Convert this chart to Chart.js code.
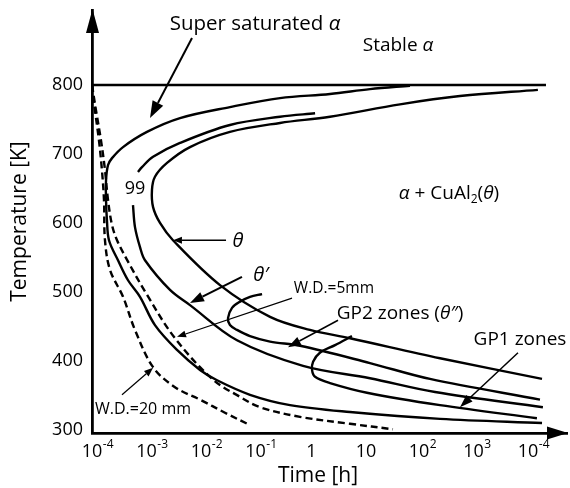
<!DOCTYPE html>
<html>
<head>
<meta charset="utf-8">
<script src="https://cdn.jsdelivr.net/npm/chart.js@4/dist/chart.umd.min.js"></script>
<style>html,body{margin:0;padding:0;background:#fff;}canvas{display:block;}</style>
</head>
<body>
<canvas id="c" width="570" height="488"></canvas>
<script>
// ---------- tick values / labels ----------
const xTickValues = [1e-4, 1e-3, 1e-2, 1e-1, 1, 10, 100, 1000, 10000];
const xTickBase   = ['10', '10', '10', '10', '1', '10', '10', '10', '10'];
const xTickExp    = ['-4', '-3', '-2', '-1', '',  '',   '2',  '3',  '-4'];
const yTickValues = [300, 400, 500, 600, 700, 800];

// ---------- series (time in h, temperature in K) ----------
const solvusTime = [1e-4, 21400];
const solvusTemp = [800, 800];

const outerTime = [68.4, 12.6, 2.33, 0.282, 0.034, 4.12e-3, 1.02e-3, 3.71e-4, 2.33e-4, 1.97e-4, 1.81e-4, 1.81e-4, 1.88e-4, 2.05e-4, 3.0e-4, 4.58e-4, 7.6e-4, 1.43e-3, 3.63e-3, 9.6e-3, 0.0197, 0.0793, 0.43, 5.42, 243, 18100];
const outerTemp = [799, 794, 787, 781, 768, 752, 732, 710, 694, 684, 662, 633, 604, 575, 546, 517, 493, 452, 416, 387, 372, 351, 336, 326, 316, 310];

const c99UpperTime = [1.24, 0.282, 0.034, 4.12e-3, 1.32e-3, 8.26e-4, 6.98e-4];
const c99UpperTemp = [759, 754, 742, 716, 696, 681, 674];
const c99LowerTime = [5.65e-4, 6.15e-4, 7.6e-4, 9.38e-4, 2.7e-3, 6.28e-3, 0.0458, 0.745, 12.6, 197, 18800];
const c99LowerTemp = [626, 594, 565, 546, 503, 481, 430, 393, 375, 355, 333];

const thetaTime = [15200, 565, 44.8, 2.33, 0.282, 0.034, 6.28e-3, 2.38e-3, 1.43e-3, 1.26e-3, 1.32e-3, 1.77e-3, 3.06e-3, 0.0223, 0.185, 1.0, 5.42, 243, 18100];
const thetaTemp = [793, 784, 772, 754, 745, 732, 710, 687, 667, 648, 623, 600, 575, 510, 464, 445, 433, 404, 374];

const gp2Time = [0.132, 0.0793, 0.052, 0.0371, 0.0313, 0.034, 0.0458, 0.0793, 0.185, 0.656, 12.6, 159, 16600];
const gp2Temp = [497, 493, 486, 477, 462, 452, 445, 436, 428, 422, 397, 374, 344];

const gp1Time = [5.9, 2.88, 1.52, 1.14, 1.09, 1.24, 2.33, 11.1, 243, 14600];
const gp1Temp = [436, 423, 412, 399, 387, 377, 368, 354, 336, 317];

const wd20Time = [1e-4, 1.13e-4, 1.34e-4, 1.52e-4, 1.66e-4, 1.73e-4, 2.14e-4, 3.71e-4, 6.15e-4, 1.32e-3, 3.33e-3, 9.6e-3, 0.0275, 0.0793];
const wd20Temp = [800, 764, 720, 677, 633, 575, 532, 493, 445, 391, 362, 344, 325, 307];

const wd5Time = [1e-4, 1.18e-4, 1.46e-4, 1.73e-4, 1.97e-4, 2.33e-4, 2.88e-4, 4.58e-4, 1.02e-3, 3.33e-3, 0.0166, 0.052, 0.121, 0.656, 5.42, 33.3];
const wd5Temp = [800, 764, 720, 677, 633, 597, 575, 544, 496, 433, 373, 348, 333, 319, 309, 301];

// ---------- annotations (data coordinates) ----------
const noteParts = [
  [['Super saturated ', 0], ['α', 1]],
  [['Stable ', 0], ['α', 1]],
  [['α', 1], [' + CuAl', 0], ['2', 2], ['(', 0], ['θ', 1], [')', 0]],
  [['99', 0]],
  [['θ', 1]],
  [['θ′', 1]],
  [['W.D.=5mm', 0]],
  [['GP2 zones (', 0], ['θ″', 1], [')', 0]],
  [['GP1 zones', 0]],
  [['W.D.=20 mm', 0]]
];
const noteTime = [0.098, 41.2, 355, 6.15e-4, 0.0478, 0.126, 2.75, 44.8, 7130, 8.63e-4];
const noteTemp = [891, 859, 645, 652, 575, 527, 506, 471, 433, 332];
const noteSize = [20.5, 19, 19, 18, 20, 20, 15.5, 19, 19, 16];

const arrowFromTime = [6.84e-3, 0.0288, 0.0565, 0.468, 3.27, 6560, 3.55e-4];
const arrowFromTemp = [868, 575, 522, 491, 459, 412, 351];
const arrowToTime   = [1.16e-3, 3.06e-3, 6.28e-3, 3.63e-3, 0.394, 565, 1.32e-3];
const arrowToTemp   = [752, 575, 484, 435, 420, 333, 390];
const arrowWidth    = [2, 1.3, 2, 1.2, 1.5, 1.5, 1.2];
const arrowHead     = [[17, 6], [9, 3.5], [14, 5], [9, 3.5], [13, 4.5], [13, 4.5], [9, 3.5]];

const FONT = "'Open Sans', 'DejaVu Sans', sans-serif";

function zip(ts, Ts) { return ts.map((t, i) => ({ x: t, y: Ts[i] })); }
function solid(label, ts, Ts) {
  return { label, data: zip(ts, Ts), borderColor: '#000', borderWidth: 2.4, showLine: true,
           pointRadius: 0, tension: 0.35, fill: false };
}
function dashed(label, ts, Ts) {
  const d = solid(label, ts, Ts); d.borderDash = [7, 4]; return d;
}

function drawRich(ctx, parts, cx, cy, size) {
  const fonts = [`${size}px ${FONT}`, `italic ${size}px ${FONT}`, `${Math.round(size * 0.62)}px ${FONT}`];
  let total = 0;
  parts.forEach(p => { ctx.font = fonts[p[1]]; total += ctx.measureText(p[0]).width; });
  let x = cx - total / 2;
  ctx.textAlign = 'left';
  ctx.textBaseline = 'alphabetic';
  const base = cy + size * 0.36;
  parts.forEach(p => {
    ctx.font = fonts[p[1]];
    const y = p[1] === 2 ? base + size * 0.2 : base;
    ctx.fillText(p[0], x, y);
    x += ctx.measureText(p[0]).width;
  });
}

function drawArrow(ctx, x1, y1, x2, y2, w, len, hw) {
  const a = Math.atan2(y2 - y1, x2 - x1);
  const bx = x2 - len * Math.cos(a), by = y2 - len * Math.sin(a);
  ctx.lineWidth = w;
  ctx.beginPath(); ctx.moveTo(x1, y1); ctx.lineTo(bx, by); ctx.stroke();
  ctx.beginPath();
  ctx.moveTo(x2, y2);
  ctx.lineTo(bx + hw * Math.sin(a), by - hw * Math.cos(a));
  ctx.lineTo(bx - hw * Math.sin(a), by + hw * Math.cos(a));
  ctx.closePath(); ctx.fill();
}

const overlay = {
  id: 'overlay',
  afterDraw(chart) {
    const ctx = chart.ctx, xs = chart.scales.x, ys = chart.scales.y, ca = chart.chartArea;
    ctx.save();
    ctx.fillStyle = '#000'; ctx.strokeStyle = '#000';
    // axis arrowheads
    ctx.beginPath();
    ctx.moveTo(ca.left + 0.5, ca.top - 1);
    ctx.lineTo(ca.left - 6, ca.top + 23);
    ctx.lineTo(ca.left + 7, ca.top + 23);
    ctx.closePath(); ctx.fill();
    ctx.beginPath();
    ctx.moveTo(ca.right + 1, ca.bottom);
    ctx.lineTo(ca.right - 20, ca.bottom - 6.5);
    ctx.lineTo(ca.right - 20, ca.bottom + 6.5);
    ctx.closePath(); ctx.fill();
    // x tick labels with superscripts
    xTickValues.forEach((v, i) => {
      const px = xs.getPixelForValue(v);
      ctx.font = `18px ${FONT}`;
      ctx.textBaseline = 'alphabetic';
      const bw = ctx.measureText(xTickBase[i]).width;
      ctx.textAlign = 'left';
      const x0 = px - bw / 2 + (xTickExp[i] ? 0 : 1.5);
      ctx.fillText(xTickBase[i], x0, ca.bottom + 24);
      if (xTickExp[i]) {
        ctx.font = `12px ${FONT}`;
        ctx.fillText(xTickExp[i], x0 + bw + 0.5, ca.bottom + 15);
      }
    });
    // x axis title
    ctx.font = `21px ${FONT}`;
    ctx.textAlign = 'center'; ctx.textBaseline = 'middle';
    ctx.fillText('Time [h]', 318, 476);
    // annotation arrows
    arrowFromTime.forEach((t, i) => {
      drawArrow(ctx, xs.getPixelForValue(t), ys.getPixelForValue(arrowFromTemp[i]),
        xs.getPixelForValue(arrowToTime[i]), ys.getPixelForValue(arrowToTemp[i]),
        arrowWidth[i], arrowHead[i][0], arrowHead[i][1]);
    });
    // annotation texts
    noteParts.forEach((parts, i) => {
      drawRich(ctx, parts, xs.getPixelForValue(noteTime[i]), ys.getPixelForValue(noteTemp[i]), noteSize[i]);
    });
    ctx.restore();
  }
};

new Chart(document.getElementById('c'), {
  type: 'scatter',
  data: {
    datasets: [
      solid('Solvus', solvusTime, solvusTemp),
      solid('Start (super saturated α boundary)', outerTime, outerTemp),
      solid('99 (upper)', c99UpperTime, c99UpperTemp),
      solid('99 (lower)', c99LowerTime, c99LowerTemp),
      solid('θ', thetaTime, thetaTemp),
      solid('GP2 zones (θ″)', gp2Time, gp2Temp),
      solid('GP1 zones', gp1Time, gp1Temp),
      dashed('W.D.=20 mm', wd20Time, wd20Temp),
      dashed('W.D.=5mm', wd5Time, wd5Temp)
    ]
  },
  options: {
    responsive: false,
    animation: false,
    devicePixelRatio: 1,
    layout: { padding: { left: 0, right: 3, top: 10, bottom: 0 } },
    plugins: { legend: { display: false }, tooltip: { enabled: false } },
    scales: {
      x: {
        type: 'logarithmic',
        min: 1e-4,
        max: 52000,
        afterBuildTicks: s => { s.ticks = xTickValues.map(v => ({ value: v })); },
        afterFit: s => { s.height = 55; s.paddingLeft = 0; s.paddingRight = 0; },
        ticks: { display: false },
        grid: { display: false, drawTicks: false },
        border: { display: true, color: '#000', width: 2.8 }
      },
      y: {
        type: 'linear',
        min: 295.6,
        max: 908.7,
        afterBuildTicks: s => { s.ticks = yTickValues.map(v => ({ value: v })); },
        afterFit: s => { s.width = 92; s.paddingTop = 0; s.paddingBottom = 0; },
        ticks: { color: '#000', padding: 9, font: { size: 18, family: FONT } },
        grid: { display: false, drawTicks: false },
        border: { display: true, color: '#000', width: 2.8 },
        title: { display: true, text: 'Temperature [K]', color: '#000',
                 font: { size: 21, family: FONT }, padding: { top: 7, bottom: 0 } }
      }
    }
  },
  plugins: [overlay]
});
</script>
</body>
</html>
